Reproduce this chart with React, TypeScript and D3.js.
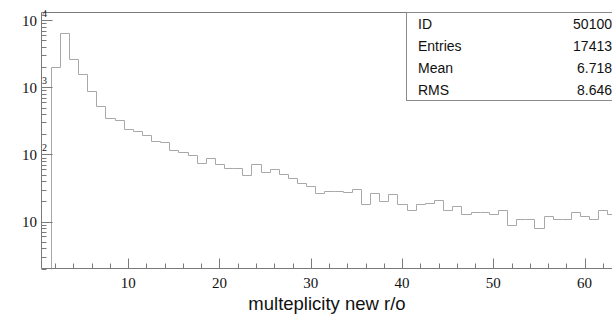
import React, { useRef, useEffect } from 'react';
import * as d3 from 'd3';

// histogram: unit-width bins centred on integers, first visible bin is 2
const binCentres = [
  2, 3, 4, 5, 6, 7, 8, 9, 10, 11, 12, 13, 14, 15, 16, 17, 18, 19, 20, 21,
  22, 23, 24, 25, 26, 27, 28, 29, 30, 31, 32, 33, 34, 35, 36, 37, 38, 39, 40, 41,
  42, 43, 44, 45, 46, 47, 48, 49, 50, 51, 52, 53, 54, 55, 56, 57, 58, 59, 60, 61,
  62, 63,
];
const counts = [
  2036, 6400, 2680, 1585, 871, 527, 349, 322, 242, 222, 195, 160, 153, 116, 107, 99, 74, 90, 72, 63,
  63, 49, 72, 54, 60, 51, 44, 38, 34, 27, 29, 29, 28, 31, 18, 27, 20, 26, 18, 15,
  18, 19, 21, 15, 17, 13, 14, 14, 13, 15, 9, 11, 11, 8, 12, 11, 11, 14, 12, 11,
  15, 13,
];

const xMajorTicks = [10, 20, 30, 40, 50, 60];
const xMinorTicks = [2, 4, 6, 8, 12, 14, 16, 18, 22, 24, 26, 28, 32, 34, 36, 38, 42, 44, 46, 48, 52, 54, 56, 58, 62];
const yDecades = [10, 100, 1000, 10000];
const yExponents = ['', '2', '3', '4'];

const statLabels = ['ID', 'Entries', 'Mean', 'RMS'];
const statValues = ['50100', '17413', '6.718', '8.646'];

const xTitle = 'multeplicity new r/o';

function App() {
  const svgRef = useRef<SVGSVGElement>(null);

  useEffect(() => {
    const svg = d3.select(svgRef.current);
    svg.selectAll('*').remove();

    const width = 612;
    const height = 335;
    const left = 41.5;
    const top = 12.5;
    const bottom = 268.5;

    svg.attr('width', width).attr('height', height);

    const x = d3.scaleLinear().domain([0.5, 63]).range([left, 612]);
    const y = d3.scaleLog().domain([2, 13000]).range([bottom, top]);

    const axisColor = '#7a7a7a';
    const histColor = '#a8a8a8';

    // histogram outline
    const pts: [number, number][] = [];
    const half = 0.5;
    pts.push([x(binCentres[0] - half), bottom]);
    binCentres.forEach((c, i) => {
      pts.push([x(c - half), y(counts[i])]);
      pts.push([x(c + half), y(counts[i])]);
    });
    svg
      .append('path')
      .attr('d', d3.line()(pts.map(([a, b]) => [Math.round(a) + 0.5, Math.round(b) + 0.5])))
      .attr('fill', 'none')
      .attr('stroke', histColor)
      .attr('stroke-width', 1);

    // frame
    const frame = svg.append('g').attr('stroke', axisColor).attr('stroke-width', 1).attr('fill', 'none');
    frame.append('line').attr('x1', left).attr('x2', width).attr('y1', top).attr('y2', top);
    frame.append('line').attr('x1', left).attr('x2', left).attr('y1', top).attr('y2', bottom);
    frame.append('line').attr('x1', left).attr('x2', width).attr('y1', bottom).attr('y2', bottom);

    // y ticks (log)
    y.ticks().forEach((t) => {
      const isMajor = yDecades.includes(t);
      const yy = Math.round(y(t)) + 0.5;
      frame
        .append('line')
        .attr('x1', left)
        .attr('x2', left + (isMajor ? 11 : 5))
        .attr('y1', yy)
        .attr('y2', yy);
    });

    // x ticks
    xMajorTicks.forEach((t) => {
      const xx = Math.round(x(t)) + 0.5;
      frame.append('line').attr('x1', xx).attr('x2', xx).attr('y1', bottom).attr('y2', bottom - 10);
    });
    xMinorTicks.forEach((t) => {
      const xx = Math.round(x(t)) + 0.5;
      frame.append('line').attr('x1', xx).attr('x2', xx).attr('y1', bottom).attr('y2', bottom - 5);
    });

    const serif = '"Liberation Serif", "DejaVu Serif", serif';
    const sans = '"Liberation Sans", Arial, sans-serif';

    // x tick labels
    svg
      .append('g')
      .selectAll('text')
      .data(xMajorTicks)
      .enter()
      .append('text')
      .attr('x', (d) => x(d))
      .attr('y', 288)
      .attr('text-anchor', 'middle')
      .attr('font-family', serif)
      .attr('font-size', 15)
      .attr('fill', '#111')
      .text((d) => d);

    // y tick labels
    const yl = svg.append('g').attr('font-family', serif).attr('fill', '#111');
    yDecades.forEach((d, i) => {
      const yy = y(d);
      yl.append('text')
        .attr('x', 37)
        .attr('y', yy + 5.5)
        .attr('text-anchor', 'end')
        .attr('font-size', 15)
        .text('10');
      if (yExponents[i]) {
        yl.append('text')
          .attr('x', 42)
          .attr('y', yy - 3)
          .attr('font-size', 10)
          .text(yExponents[i]);
      }
    });

    // stats box (right side runs off the picture, as in the original)
    const boxLeft = 406.5;
    svg
      .append('rect')
      .attr('x', boxLeft)
      .attr('y', top)
      .attr('width', 260)
      .attr('height', 88)
      .attr('fill', 'white')
      .attr('stroke', '#8a8a8a');
    const st = svg.append('g').attr('font-family', sans).attr('font-size', 14).attr('fill', '#111');
    statLabels.forEach((s, i) => {
      st.append('text').attr('x', 418).attr('y', 28.5 + i * 22.3).text(s);
      st.append('text')
        .attr('x', 612)
        .attr('y', 28.5 + i * 22.3)
        .attr('text-anchor', 'end')
        .text(statValues[i]);
    });

    // x title
    svg
      .append('text')
      .attr('x', 327)
      .attr('y', 310)
      .attr('text-anchor', 'middle')
      .attr('font-family', sans)
      .attr('font-size', 18.5)
      .attr('fill', '#111')
      .text(xTitle);
  }, []);

  return (
    <div style={{ position: 'absolute', left: 0, top: 0, width: 612, height: 335, overflow: 'hidden', background: 'white' }}>
      <svg ref={svgRef} style={{ display: 'block' }}></svg>
    </div>
  );
}

export default App;
